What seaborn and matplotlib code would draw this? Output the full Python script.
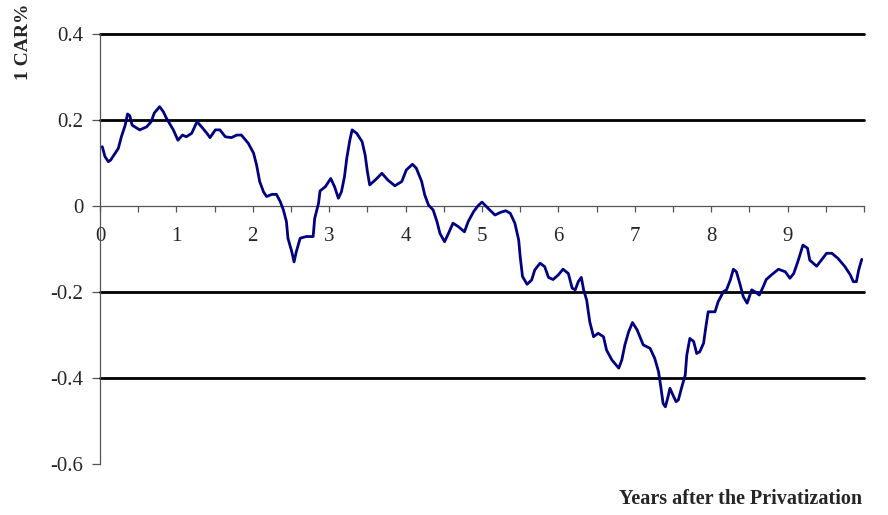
import numpy as np
import pandas as pd
import matplotlib
matplotlib.use("Agg")
import matplotlib.pyplot as plt
from matplotlib.ticker import MultipleLocator, FuncFormatter
import seaborn as sns

# years after privatization and cumulative abnormal return
years = [0.03, 0.065, 0.11, 0.14, 0.24, 0.28, 0.33, 0.36, 0.39, 0.42, 0.52, 0.61, 0.67, 0.71,
         0.78, 0.83, 0.87, 0.96, 1.02, 1.08, 1.13, 1.20, 1.27, 1.33, 1.40, 1.44, 1.51, 1.57,
         1.64, 1.72, 1.79, 1.85, 1.94, 2.01, 2.05, 2.09, 2.14, 2.18, 2.25, 2.31, 2.36, 2.40,
         2.44, 2.46, 2.51, 2.54, 2.57, 2.62, 2.70, 2.79, 2.81, 2.86, 2.88, 2.95, 3.02, 3.07,
         3.12, 3.16, 3.20, 3.23, 3.27, 3.30, 3.36, 3.43, 3.47, 3.50, 3.53, 3.60, 3.69, 3.77,
         3.86, 3.95, 4.01, 4.09, 4.14, 4.21, 4.25, 4.30, 4.36, 4.41, 4.45, 4.51, 4.56, 4.62,
         4.69, 4.77, 4.82, 4.89, 4.95, 5.00, 5.06, 5.10, 5.17, 5.24, 5.31, 5.37, 5.43, 5.48,
         5.50, 5.53, 5.59, 5.65, 5.69, 5.76, 5.82, 5.87, 5.93, 6.00, 6.06, 6.13, 6.18, 6.22,
         6.26, 6.30, 6.33, 6.37, 6.41, 6.46, 6.52, 6.59, 6.63, 6.70, 6.79, 6.83, 6.87, 6.92,
         6.97, 7.03, 7.11, 7.20, 7.26, 7.31, 7.34, 7.37, 7.40, 7.43, 7.46, 7.50, 7.54, 7.57,
         7.61, 7.66, 7.68, 7.72, 7.77, 7.81, 7.85, 7.90, 7.93, 7.96, 8.05, 8.09, 8.16, 8.20,
         8.25, 8.29, 8.33, 8.38, 8.42, 8.47, 8.53, 8.57, 8.63, 8.68, 8.72, 8.79, 8.88, 8.97,
         9.03, 9.08, 9.14, 9.20, 9.26, 9.29, 9.38, 9.44, 9.51, 9.58, 9.66, 9.75, 9.82, 9.86,
         9.90, 9.93, 9.97]
car = [0.138, 0.115, 0.103, 0.107, 0.134, 0.161, 0.188, 0.214, 0.210, 0.188, 0.177, 0.184, 0.196, 0.216,
       0.231, 0.219, 0.204, 0.177, 0.153, 0.165, 0.161, 0.169, 0.196, 0.184, 0.169, 0.159, 0.177, 0.177,
       0.161, 0.159, 0.165, 0.165, 0.146, 0.123, 0.095, 0.057, 0.033, 0.022, 0.027, 0.027, 0.010, -0.009,
       -0.036, -0.075, -0.106, -0.130, -0.106, -0.075, -0.071, -0.071, -0.029, 0.006, 0.035, 0.045, 0.064, 0.045,
       0.018, 0.033, 0.068, 0.111, 0.153, 0.177, 0.169, 0.150, 0.119, 0.080, 0.049, 0.060, 0.076, 0.060,
       0.047, 0.057, 0.084, 0.097, 0.088, 0.057, 0.026, 0.002, -0.009, -0.036, -0.064, -0.083, -0.064, -0.040,
       -0.048, -0.060, -0.036, -0.013, 0.001, 0.009, -0.002, -0.009, -0.021, -0.015, -0.011, -0.017, -0.040, -0.079,
       -0.118, -0.164, -0.182, -0.172, -0.149, -0.133, -0.141, -0.166, -0.171, -0.160, -0.147, -0.157, -0.191, -0.195,
       -0.176, -0.166, -0.195, -0.219, -0.269, -0.304, -0.296, -0.304, -0.335, -0.358, -0.377, -0.358, -0.323, -0.292,
       -0.271, -0.288, -0.323, -0.331, -0.354, -0.385, -0.420, -0.459, -0.467, -0.447, -0.424, -0.440, -0.455, -0.451,
       -0.424, -0.393, -0.347, -0.308, -0.315, -0.343, -0.339, -0.319, -0.281, -0.246, -0.246, -0.223, -0.199, -0.195,
       -0.172, -0.147, -0.153, -0.184, -0.211, -0.226, -0.195, -0.199, -0.207, -0.188, -0.171, -0.160, -0.147, -0.153,
       -0.168, -0.157, -0.126, -0.091, -0.098, -0.126, -0.140, -0.126, -0.110, -0.110, -0.122, -0.141, -0.160, -0.176,
       -0.176, -0.149, -0.124]
ref_levels = [0.4, 0.2, -0.2, -0.4]

df = pd.DataFrame({"years": years, "car": car})

sns.set_style("ticks")
plt.rcParams['font.family'] = ['Liberation Serif', 'DejaVu Serif']

fig = plt.figure(figsize=(8.88, 5.15), dpi=100)
ax = fig.add_axes([0.1126, 0.099, 0.8604, 0.835])

for lvl in ref_levels:
    ax.axhline(lvl, color='black', linewidth=2.0, zorder=1, clip_on=False)

sns.lineplot(data=df, x="years", y="car", ax=ax, color='#000080', linewidth=2.0, zorder=3)

ax.set_xlim(0, 10)
ax.set_ylim(-0.6, 0.4)
ax.set_xlabel('')
ax.set_ylabel('')

# spines: y axis on the left, x axis through zero
for side in ['top', 'right']:
    ax.spines[side].set_visible(False)
ax.spines['bottom'].set_position(('data', 0))
ax.spines['bottom'].set_color('#555555')
ax.spines['bottom'].set_linewidth(0.9)
ax.spines['left'].set_color('#555555')
ax.spines['left'].set_linewidth(0.9)

ax.xaxis.set_minor_locator(MultipleLocator(0.5))
ax.set_xticks(range(0, 10))
ax.yaxis.set_major_locator(MultipleLocator(0.2))
ax.yaxis.set_major_formatter(FuncFormatter(lambda v, p: f"{v:g}" if abs(v) > 1e-9 else "0"))

ax.tick_params(axis='x', which='both', direction='out', length=4, width=0.9, color='#555555',
               pad=11, labelsize=15)
ax.tick_params(axis='y', direction='out', length=6, width=0.9, color='#555555',
               pad=6, labelsize=15)

fig.text(0.971, 0.012, 'Years after the Privatization', ha='right', va='bottom',
         fontsize=14.5, fontweight='bold')
fig.text(0.026, 0.918, '1 CAR%', rotation=90, ha='center', va='center',
         fontsize=14, fontweight='bold')

fig.savefig('out.png', dpi=100)
